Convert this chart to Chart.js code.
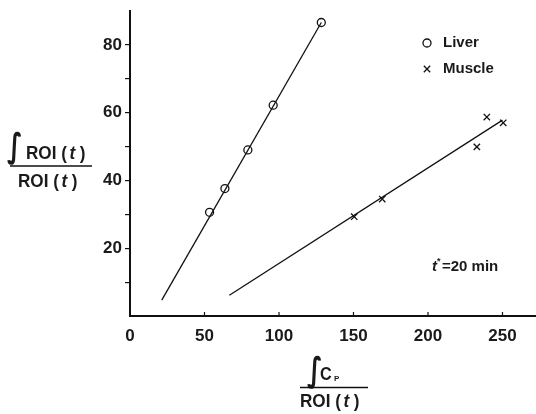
<!DOCTYPE html>
<html>
<head>
<meta charset="utf-8">
<script src="https://cdn.jsdelivr.net/npm/chart.js@4"></script>
<style>
html,body{margin:0;padding:0;background:#fff;}
#wrap{width:536px;height:414px;position:relative;}
</style>
</head>
<body>
<div id="wrap"><canvas id="c" width="536" height="414"></canvas></div>
<script>
// ---- data ----
const liverX = [53.4, 63.7, 79.1, 96.1, 128.4];
const liverY = [30.6, 37.6, 49.0, 62.2, 86.6];
const muscleX = [150.5, 169.3, 232.8, 239.5, 250.5];
const muscleY = [29.3, 34.5, 49.9, 58.7, 57.0];
const liverFitX = [21.3, 128.4];
const liverFitY = [4.7, 86.6];
const muscleFitX = [66.7, 250.0];
const muscleFitY = [6.1, 57.8];
const xTickValues = [0, 50, 100, 150, 200, 250];
const yTickValues = [10, 20, 30, 40, 50, 60, 70, 80];
const yTickLabels = ['', '20', '', '40', '', '60', '', '80'];
const seriesNames = ['Liver', 'Muscle'];
const noteText = '=20 min';

const pts = (xs, ys) => xs.map((x, i) => ({x: x, y: ys[i]}));
const FONT = '"Liberation Sans", Arial, sans-serif';
const B19 = 'bold 19px ' + FONT, I19 = 'italic bold 19px ' + FONT;

function drawROI(ctx, x, y) {
  ctx.save();
  ctx.translate(x, y);
  ctx.scale(0.9, 1);
  let cx = 0;
  ctx.font = B19; ctx.fillText('ROI (', cx, 0); cx += ctx.measureText('ROI (').width + 3;
  ctx.font = I19; ctx.fillText('t', cx, 0); cx += ctx.measureText('t').width + 5;
  ctx.font = B19; ctx.fillText(')', cx, 0);
  ctx.restore();
}

function drawIntegral(ctx, x, y) {
  ctx.save();
  ctx.translate(x, y);
  ctx.scale(0.8, 1.05);
  ctx.font = 'bold 32px "DejaVu Sans", sans-serif';
  ctx.textBaseline = 'alphabetic';
  ctx.fillText('\u222B', 0, 0);
  ctx.restore();
}

const decor = {
  id: 'decor',
  afterDraw(chart) {
    const ctx = chart.ctx;
    const xs = chart.scales.x;
    const bottom = chart.chartArea.bottom;
    ctx.save();
    ctx.strokeStyle = '#111';
    ctx.fillStyle = '#1a1a1a';
    // inward x ticks
    ctx.lineWidth = 1.2;
    xTickValues.forEach(v => {
      if (v === 0) return;
      const px = xs.getPixelForValue(v);
      ctx.beginPath(); ctx.moveTo(px, bottom); ctx.lineTo(px, bottom - 4); ctx.stroke();
    });
    // legend
    const lx = 427, ly1 = 43, ly2 = 69;
    ctx.save();
    ctx.fillStyle = 'rgba(0,0,0,0)';
    ctx.lineWidth = 1.3;
    Chart.helpers.drawPoint(ctx, {pointStyle: 'circle', radius: 4, borderWidth: 1.3}, lx, ly1);
    Chart.helpers.drawPoint(ctx, {pointStyle: 'crossRot', radius: 4.5, borderWidth: 1.3}, lx, ly2);
    ctx.restore();
    ctx.font = 'bold 15px ' + FONT;
    ctx.textBaseline = 'middle';
    ctx.textAlign = 'left';
    ctx.fillText(seriesNames[0], 443, ly1);
    ctx.fillText(seriesNames[1], 443, ly2);
    // note t*=20 min
    ctx.textBaseline = 'alphabetic';
    ctx.font = 'italic bold 15px ' + FONT;
    ctx.fillText('t', 432, 271);
    ctx.font = 'bold 9px ' + FONT;
    ctx.fillText('*', 437, 264);
    ctx.font = 'bold 15px ' + FONT;
    ctx.fillText(noteText, 442, 271);

    // y-axis title (fraction)
    ctx.textAlign = 'left';
    ctx.textBaseline = 'alphabetic';
    drawIntegral(ctx, 7, 157);
    drawROI(ctx, 26, 159);
    ctx.lineWidth = 1.3;
    ctx.beginPath(); ctx.moveTo(10, 166); ctx.lineTo(92, 166); ctx.stroke();
    drawROI(ctx, 18, 187);

    // x-axis title (fraction)
    drawIntegral(ctx, 307, 381);
    ctx.save();
    ctx.translate(320, 380);
    ctx.scale(0.9, 1);
    ctx.font = 'bold 18px ' + FONT;
    ctx.fillText('C', 0, 0);
    ctx.restore();
    ctx.font = 'bold 8px ' + FONT;
    ctx.fillText('P', 334, 381);
    ctx.beginPath(); ctx.moveTo(300, 387.5); ctx.lineTo(368, 387.5); ctx.stroke();
    drawROI(ctx, 300, 407);
    ctx.restore();
  }
};

new Chart(document.getElementById('c'), {
  type: 'scatter',
  data: {
    datasets: [
      {label: seriesNames[0], data: pts(liverX, liverY), pointStyle: 'circle', pointRadius: 4,
       pointBorderWidth: 1.3, pointBorderColor: '#111', pointBackgroundColor: 'rgba(0,0,0,0)', showLine: false, order: 0},
      {label: seriesNames[1], data: pts(muscleX, muscleY), pointStyle: 'crossRot', pointRadius: 4.5,
       pointBorderWidth: 1.3, pointBorderColor: '#111', showLine: false, order: 0},
      {label: 'liverFit', data: pts(liverFitX, liverFitY), showLine: true, pointRadius: 0,
       borderColor: '#111', borderWidth: 1.3, fill: false, order: 1},
      {label: 'muscleFit', data: pts(muscleFitX, muscleFitY), showLine: true, pointRadius: 0,
       borderColor: '#111', borderWidth: 1.3, fill: false, order: 1}
    ]
  },
  options: {
    responsive: false,
    animation: false,
    events: [],
    layout: {autoPadding: false, padding: {top: 11, right: 0, left: 0, bottom: 0}},
    plugins: {legend: {display: false}, tooltip: {enabled: false}},
    scales: {
      x: {
        type: 'linear', min: 0, max: 272.5,
        afterBuildTicks: s => { s.ticks = xTickValues.map(v => ({value: v})); },
        afterFit: s => { s.height = 98; s.paddingLeft = 0; s.paddingRight = 0; },
        border: {display: true, color: '#111', width: 2},
        grid: {display: true, drawOnChartArea: false, drawTicks: false},
        ticks: {color: '#1a1a1a', padding: 10, font: {family: FONT, size: 17, weight: 'bold'},
                maxRotation: 0, autoSkip: false, callback: v => String(v)}
      },
      y: {
        type: 'linear', min: 0, max: 90,
        afterBuildTicks: s => { s.ticks = yTickValues.map(v => ({value: v})); },
        afterFit: s => { s.width = 130; s.paddingTop = 0; s.paddingBottom = 0; },
        border: {display: true, color: '#111', width: 2},
        grid: {display: true, drawOnChartArea: false, drawTicks: true, tickLength: 5, color: '#111', lineWidth: 1.2},
        ticks: {color: '#1a1a1a', padding: 3, font: {family: FONT, size: 17, weight: 'bold'},
                autoSkip: false, callback: (v) => yTickLabels[yTickValues.indexOf(v)] || ''}
      }
    }
  },
  plugins: [decor]
});
</script>
</body>
</html>
